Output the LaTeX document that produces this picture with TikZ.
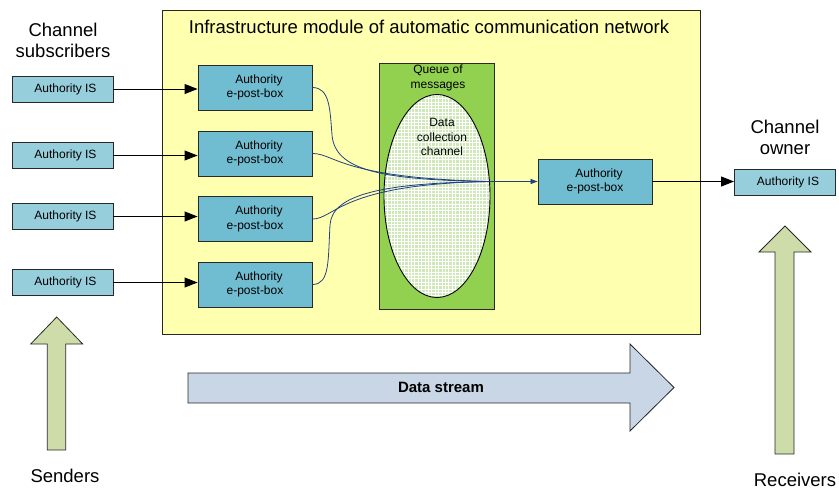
\documentclass[tikz,border=0pt]{standalone}
\usepackage{fontspec}
\setmainfont{Liberation Sans}
\usetikzlibrary{arrows.meta,shapes.geometric}
\definecolor{modyellow}{RGB}{255,255,176}
\definecolor{islight}{RGB}{150,206,220}
\definecolor{pbdark}{RGB}{112,188,208}
\definecolor{queuegreen}{RGB}{146,208,80}
\definecolor{ellgreen}{RGB}{206,232,184}
\definecolor{bigarrow}{RGB}{205,220,168}
\definecolor{streamblue}{RGB}{200,214,229}
\definecolor{curveblue}{RGB}{35,65,130}
\definecolor{edgegray}{RGB}{40,40,40}
\tikzset{
  isbox/.style={draw=edgegray, line width=0.9pt, fill=islight, minimum width=101pt, minimum height=26pt, inner sep=0pt, font=\fontsize{12}{14}\selectfont},
  pbox/.style={draw=edgegray, line width=0.9pt, fill=pbdark, minimum width=114pt, minimum height=45pt, inner sep=0pt, align=center, font=\fontsize{12}{14.5}\selectfont},
  bigtext/.style={align=center, font=\fontsize{18.5}{21}\selectfont},
  smalltext/.style={align=center, font=\fontsize{12}{14.5}\selectfont},
  feed/.style={draw=black, line width=0.9pt, -{Triangle[length=13pt,width=10pt]}},
  flow/.style={draw=curveblue, line width=0.8pt},
  bigarr/.style={draw=edgegray, line width=0.8pt, fill=bigarrow},
}
\begin{document}
\begin{tikzpicture}[x=1pt,y=-1pt]
\useasboundingbox (0,0) rectangle (839,491);
% module
\node[draw=edgegray, line width=0.9pt, fill=modyellow, minimum width=538pt, minimum height=324pt, inner sep=0pt] (module) at (431,172) {};
\node[bigtext] (title) at (429,27) {Infrastructure module of automatic communication network};
% labels
\node[bigtext] (subs) at (63,40) {Channel\\subscribers};
\node[bigtext] (owner) at (785,137) {Channel\\owner};
% left IS boxes
\node[isbox] (is1) at (62.5,89) {\hspace{6pt}Authority IS};
\node[isbox] (is2) at (62.5,155.5) {\hspace{6pt}Authority IS};
\node[isbox] (is3) at (62.5,216.5) {\hspace{6pt}Authority IS};
\node[isbox] (is4) at (62.5,282.5) {\hspace{6pt}Authority IS};
% post boxes
\node[pbox] (pb1) at (255,87.5) {\hspace{8pt}Authority\\e-post-box};
\node[pbox] (pb2) at (255,153.5) {\hspace{8pt}Authority\\e-post-box};
\node[pbox] (pb3) at (255,219) {\hspace{8pt}Authority\\e-post-box};
\node[pbox] (pb4) at (255,284.5) {\hspace{8pt}Authority\\e-post-box};
% arrows IS -> post box
\draw[feed] (is1.east) -- (is1.east -| pb1.west);
\draw[feed] (is2.east) -- (is2.east -| pb2.west);
\draw[feed] (is3.east) -- (is3.east -| pb3.west);
\draw[feed] (is4.east) -- (is4.east -| pb4.west);
% queue
\node[draw=edgegray, line width=0.9pt, fill=queuegreen, minimum width=115pt, minimum height=246pt, inner sep=0pt] (queue) at (436.5,186) {};
\node[smalltext] (qlabel) at (438,78) {Queue of\\messages};
\node[ellipse, minimum width=106pt, minimum height=203pt, inner sep=0pt, fill=ellgreen] (chan) at (437,196) {};
\begin{scope}
  \clip (437,196) ellipse [x radius=53pt, y radius=101.5pt];
  \draw[white, line width=0.8pt] (380,90) grid[step=3.4pt] (495,300);
\end{scope}
\draw[black, line width=0.9pt] (437,196) ellipse [x radius=53pt, y radius=101.5pt];
\node[smalltext] (clabel) at (442,137) {Data\\collection\\channel};
% right post box and IS
\node[pbox] (rp) at (595,181.5) {\hspace{8pt}Authority\\e-post-box};
\node[isbox] (ris) at (785,182) {\hspace{6pt}Authority IS};
% curves
\coordinate (conv) at (490,181.5);
\draw[flow] (pb1.east) .. controls (330,87.5) and (330,110) .. (332,135) .. controls (335,170) and (380,180) .. (conv);
\draw[flow] (pb2.east) .. controls (335,153.5) and (340,178) .. (conv);
\draw[flow] (pb3.east) .. controls (335,219) and (340,184) .. (conv);
\draw[flow] (pb4.east) .. controls (330,284.5) and (328,260) .. (330,225) .. controls (332,195) and (380,183) .. (conv);
\draw[flow, -{Triangle[length=7pt,width=5pt]}] (conv) -- (rp.west);
\draw[feed] (rp.east) -- (rp.east -| ris.west);
% big arrows
\draw[bigarr] (56.7,317) -- (82.7,344) -- (65.7,344) -- (65.7,450) -- (47.3,450) -- (47.3,344) -- (30.7,344) -- cycle;
\node[bigtext] (senders) at (65,476) {Senders};
\draw[bigarr] (785,226) -- (811,252) -- (794,252) -- (794,454) -- (775,454) -- (775,252) -- (759,252) -- cycle;
\node[bigtext, inner ysep=1pt] (receivers) at (795,480) {Receivers};
\draw[draw=edgegray, line width=0.8pt, fill=streamblue] (188,373) -- (630,373) -- (630,344) -- (674,387.5) -- (630,431) -- (630,403) -- (188,403) -- cycle;
\node[font=\fontsize{15}{18}\selectfont\bfseries] (stream) at (441,387) {Data stream};
\end{tikzpicture}
\end{document}
